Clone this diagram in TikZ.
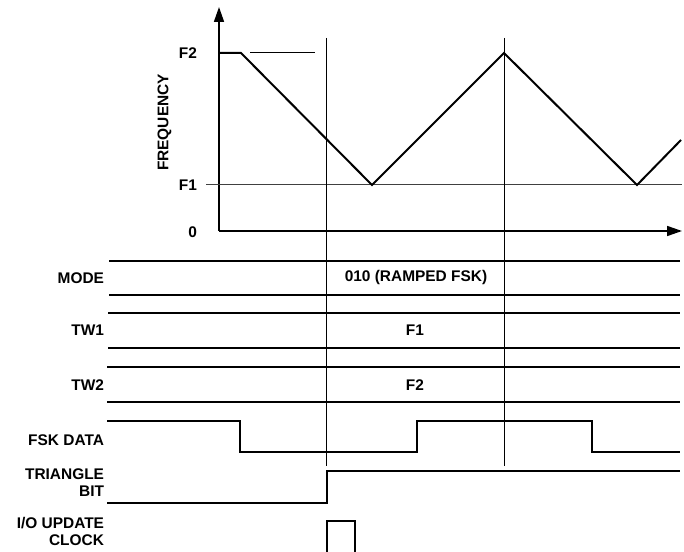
\documentclass[tikz,border=0pt]{standalone}
\usepackage{fontspec}
\setmainfont{Liberation Sans}
\usetikzlibrary{arrows.meta}

\begin{document}
\begin{tikzpicture}[x=1bp, y=-1bp, >={Triangle[length=15bp, width=10bp]}, line width=2bp,
    font=\fontsize{15.5}{17}\selectfont\bfseries,
    siglabel/.style={anchor=east, align=right, inner sep=0pt},
    buslabel/.style={inner sep=0pt},
    wave/.style={line width=2bp, line join=miter},
    marker/.style={line width=1bp}]
    \useasboundingbox (0,0) rectangle (684,552);

    % axes
    \coordinate (O) at (219,231);
    \draw[->, line width=1.7bp] (O) -- (219,7);
    \draw[->, line width=1.7bp] (O) -- (682,231);

    % levels
    \coordinate (F1a) at (206,185);
    \coordinate (F1b) at (682,185);
    \draw[line width=1bp, black!75] (F1a) -- (F1b);
    \draw[line width=1bp] (250,53) -- (315,53);

    % frequency ramp
    \draw[wave] (219,53) -- (241,53) -- (372,185) -- (504,53) -- (637,185) -- (681,140);

    % axis labels
    \node[siglabel] (lF2) at (198,53) {F2};
    \node[siglabel] (lF1) at (198,185) {F1};
    \node[siglabel] (lzero) at (198,232) {0};
    \node[rotate=90, inner sep=0pt] (lfreq) at (164.5,122.5) {FREQUENCY};

    % time markers
    \draw[marker] (326,38) -- (326,466);
    \draw[marker] (504,38) -- (504,466);

    % register rows
    \draw[wave] (109,261) -- (680,261);
    \draw[wave] (109,295) -- (680,295);
    \draw[wave] (108,313) -- (680,313);
    \draw[wave] (108,348) -- (680,348);
    \draw[wave] (107,367) -- (680,367);
    \draw[wave] (107,402) -- (680,402);
    \node[buslabel] (vmode) at (416,278) {010 (RAMPED FSK)};
    \node[buslabel] (vtw1) at (415,330) {F1};
    \node[buslabel] (vtw2) at (415,385.5) {F2};

    % signals
    \draw[wave] (107,421) -- (240,421) -- (240,452) -- (417,452) -- (417,421) -- (592,421) -- (592,452) -- (680,452);
    \draw[wave] (107,503) -- (327,503) -- (327,471) -- (680,471);
    \draw[wave] (327,552) -- (327,521) -- (355,521) -- (355,552);

    % row labels
    \node[siglabel] (lmode) at (105,278) {MODE};
    \node[siglabel] (ltw1) at (105,330) {TW1};
    \node[siglabel] (ltw2) at (105,385.5) {TW2};
    \node[siglabel] (lfsk) at (105,440) {FSK DATA};
    \node[siglabel] (ltri) at (105,483) {TRIANGLE\\BIT};
    \node[siglabel] (lio) at (105,531.5) {I/O UPDATE\\CLOCK};
\end{tikzpicture}
\end{document}
